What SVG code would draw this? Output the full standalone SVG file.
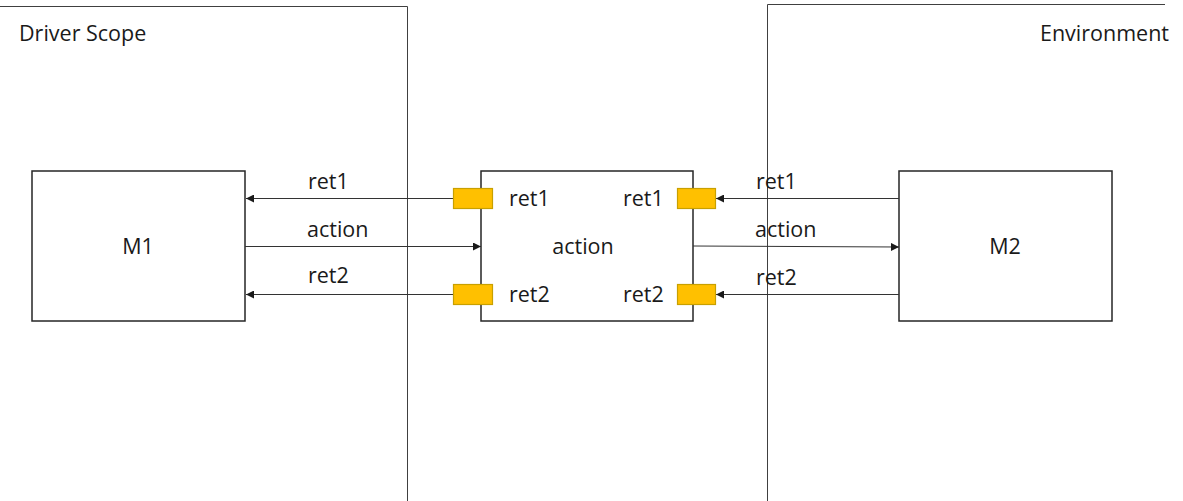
<svg xmlns="http://www.w3.org/2000/svg" width="1183" height="501" viewBox="0 0 1183 501">
<style>
text{font-family:"Open Sans","Liberation Sans",sans-serif;font-size:21.5px;fill:#1a1a1a}
.box{fill:#fff;stroke:#262626;stroke-width:1.5}
.port{fill:#FFC000;stroke:#C8A000;stroke-width:1.2}
.frame{fill:none;stroke:#404040;stroke-width:1}
.conn{stroke:#333;stroke-width:1;fill:none;marker-end:url(#ah)}
</style>
<defs>
<marker id="ah" viewBox="0 0 10 10" refX="10" refY="5" markerWidth="10" markerHeight="8" markerUnits="userSpaceOnUse" orient="auto">
<path d="M0,0 L10,5 L0,10 z" fill="#1a1a1a"/>
</marker>
</defs>
<g id="scopes">
<polyline class="frame" points="0,6.5 407.5,6.5 407.5,501"/>
<polyline class="frame" points="1165,4.5 767.5,4.5 767.5,501"/>
<text x="19" y="41">Driver Scope</text>
<text x="1169" y="41" text-anchor="end">Environment</text>
</g>
<g id="M1">
<rect class="box" x="32" y="171" width="213" height="150"/>
<text x="138" y="254" text-anchor="middle">M1</text>
</g>
<g id="M2">
<rect class="box" x="899" y="171" width="213" height="150"/>
<text x="1005" y="254" text-anchor="middle">M2</text>
</g>
<g id="mid">
<rect class="box" x="481" y="171" width="212" height="150"/>
<text x="583" y="254" text-anchor="middle">action</text>
<text x="509" y="206">ret1</text>
<text x="509" y="302">ret2</text>
<text x="623" y="206">ret1</text>
<text x="623" y="302">ret2</text>
</g>
<g id="connectors">
<line class="conn" x1="453" y1="198.5" x2="246" y2="198.5"/>
<line class="conn" x1="245" y1="246.5" x2="481" y2="246.5"/>
<line class="conn" x1="453" y1="294.5" x2="246" y2="294.5"/>
<line class="conn" x1="899" y1="198.5" x2="716" y2="198.5"/>
<line class="conn" x1="693" y1="246" x2="899" y2="247"/>
<line class="conn" x1="899" y1="294.5" x2="716" y2="294.5"/>
<text x="308" y="189">ret1</text>
<text x="307" y="237">action</text>
<text x="308" y="283">ret2</text>
<text x="756" y="189">ret1</text>
<text x="755" y="237">action</text>
<text x="756" y="285">ret2</text>
</g>
<g id="ports">
<rect class="port" x="453.5" y="188.5" width="39" height="20"/>
<rect class="port" x="453.5" y="284.5" width="39" height="20"/>
<rect class="port" x="677.5" y="188.5" width="38" height="20"/>
<rect class="port" x="677.5" y="284.5" width="38" height="20"/>
</g>
</svg>
